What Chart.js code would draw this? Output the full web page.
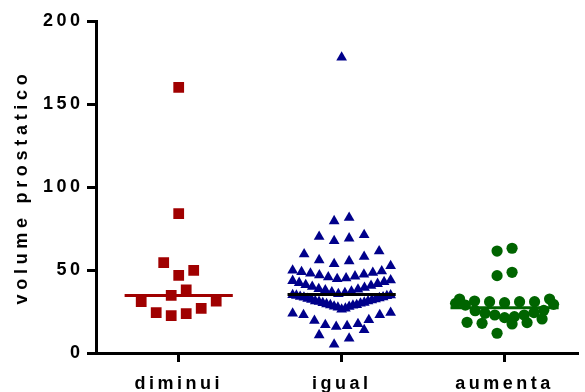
<!DOCTYPE html>
<html>
<head>
<meta charset="utf-8">
<script src="https://cdn.jsdelivr.net/npm/chart.js@4.4.0/dist/chart.umd.min.js"></script>
<style>
html,body{margin:0;padding:0;background:#fff;}
#wrap{width:585px;height:392px;position:relative;}
canvas{display:block;}
</style>
</head>
<body>
<div id="wrap"><canvas id="c" width="585" height="392"></canvas></div>
<script>
// ---------------- data ----------------
const categories = ['diminui', 'igual', 'aumenta'];
const yTicks = [0, 50, 100, 150, 200];
const yTitle = 'volume prostatico';

const diminui = [160, 84, 54.4, 49.8, 46.8, 38, 34.7, 31.3, 30.9, 26.9, 24.3, 23.7, 22.5];

const igual = [
  178,
  81.5, 79.5,
  71.1, 70.1, 69.1, 67.5,
  61.4, 59.5, 58.0, 56.0, 55.4, 53.6,
  52.4, 49.7, 49.3, 48.8, 48.4, 47.9, 47.3, 46.9, 46.2, 45.7, 45.1, 44.6,
  43.9, 43.5, 42.8, 42.3, 41.7, 41.0, 40.6, 39.9, 39.4, 38.6, 38.3, 37.8, 37.1, 36.7, 36.2, 35.6,
  35.0, 34.8, 34.6, 34.4, 33.9, 33.6, 33.5, 33.1, 32.7, 32.4, 32.2, 31.8, 31.3, 31.2,
  30.9, 30.4, 30.2, 29.9, 29.5, 29.0, 28.9, 28.6, 28.1, 27.9, 27.4, 26.9, 26.3,
  24.3, 23.9, 22.9, 22.9, 19.9, 19.5, 17.5, 16.9, 16.3, 15.9,
  13.9, 10.8, 8.8, 5.2
];

const aumenta = [63.1, 61.4, 48.6, 46.6, 32.5, 32.5, 31.3, 30.9, 30.9, 30.9, 30.3, 29.9, 29.3, 28.9,
  25.7, 25.5, 24.3, 23.9, 22.9, 22.9, 21.9, 21.3, 20.5, 18.5, 18.3, 17.9, 17.5, 11.9];

// ---------------- styling ----------------
const FONT = "'Liberation Sans', Arial, Helvetica, sans-serif";
const colors = ['#a00000', '#00008b', '#006400'];
const lineColors = ['#a00000', '#000000', '#006400'];
const styles = ['rect', 'triangle', 'circle'];
const radii = [7.6, 6.2, 5.6];
const ROW_SPAN = 8.9;      // value range grouped in one row of the dot plot
const SLOT_PX = 15;        // horizontal slot between symbols
const MAX_SPREAD_PX = 98;  // maximal spread of a row
const HALF_LINE = 0.332;   // half width of median line (x units)

function median(arr) {
  const s = [...arr].sort((a, b) => a - b);
  const n = s.length;
  return n % 2 ? s[(n - 1) / 2] : (s[n / 2 - 1] + s[n / 2]) / 2;
}

const groups = [diminui, igual, aumenta];
const datasets = [];
groups.forEach((vals, gi) => {
  datasets.push({
    label: categories[gi],
    swarm: true,
    cat: gi + 1,
    data: vals.map(v => ({x: gi + 1, y: v})),
    pointStyle: styles[gi],
    pointRadius: radii[gi],
    pointHoverRadius: radii[gi],
    pointBackgroundColor: colors[gi],
    pointBorderColor: colors[gi],
    pointBorderWidth: 0,
    showLine: false,
    order: 1
  });
});
groups.forEach((vals, gi) => {
  const m = median(vals);
  datasets.push({
    label: categories[gi] + ' median',
    data: [{x: gi + 1 - HALF_LINE, y: m}, {x: gi + 1 + HALF_LINE, y: m}],
    showLine: true,
    borderColor: lineColors[gi],
    borderWidth: 3,
    pointRadius: 0,
    fill: false,
    order: 0
  });
});

const swarmPlugin = {
  id: 'swarm',
  afterDatasetsUpdate(chart) {
    const xs = chart.scales.x;
    chart.data.datasets.forEach((ds, di) => {
      if (!ds.swarm) return;
      const meta = chart.getDatasetMeta(di);
      const cx = xs.getPixelForValue(ds.cat);
      const idx = ds.data.map((p, i) => i).sort((a, b) => ds.data[a].y - ds.data[b].y);
      let k = 0;
      while (k < idx.length) {
        const start = ds.data[idx[k]].y;
        const row = [];
        while (k < idx.length && ds.data[idx[k]].y < start + ROW_SPAN) row.push(idx[k++]);
        const n = row.length;
        const step = n > 1 ? Math.min(SLOT_PX, MAX_SPREAD_PX / (n - 1)) : 0;
        row.forEach((pi, i) => {
          let slot;
          if (n % 2) slot = i === 0 ? 0 : (i % 2 ? (i + 1) / 2 : -i / 2);
          else slot = i % 2 ? (i - 1) / 2 + 0.5 : -(i / 2 + 0.5);
          meta.data[pi].x = cx + slot * step;
        });
      }
    });
  }
};

const spacingPlugin = {
  id: 'spacing',
  beforeDraw(chart) {
    chart.ctx.letterSpacing = '3.5px';
    const ys = chart.scales.y;
    if (ys && !ys._patchedTitle) {
      const orig = ys.drawTitle.bind(ys);
      ys.drawTitle = function () {
        const c = this.ctx;
        const prev = c.letterSpacing;
        c.letterSpacing = '4.7px';
        orig();
        c.letterSpacing = prev;
      };
      ys._patchedTitle = true;
    }
  }
};

new Chart(document.getElementById('c'), {
  type: 'scatter',
  data: {datasets},
  plugins: [swarmPlugin, spacingPlugin],
  options: {
    responsive: false,
    animation: false,
    devicePixelRatio: 1,
    layout: {padding: {top: 21, right: 0, bottom: 0, left: 0}},
    plugins: {legend: {display: false}, tooltip: {enabled: false}},
    scales: {
      x: {
        type: 'linear',
        min: 0.4924,
        max: 3.447,
        afterBuildTicks: s => { s.ticks = categories.map((c, i) => ({value: i + 1})); },
        afterFit: s => { s.height = 39; },
        ticks: {
          callback: (v, i) => categories[i],
          font: {family: FONT, size: 18, weight: 'bold'},
          color: '#000',
          padding: 11,
          maxRotation: 0,
          autoSkip: false
        },
        grid: {drawOnChartArea: false, drawTicks: true, tickLength: 9, lineWidth: 3, color: '#000'},
        border: {display: true, color: '#000', width: 3}
      },
      y: {
        min: 0,
        max: 200,
        afterBuildTicks: s => { s.ticks = yTicks.map(v => ({value: v})); },
        afterFit: s => { s.width = 96; },
        ticks: {
          font: {family: FONT, size: 18, weight: 'bold'},
          color: '#000',
          padding: 3.5
        },
        grid: {drawOnChartArea: false, drawTicks: true, tickLength: 9, lineWidth: 3, color: '#000'},
        border: {display: true, color: '#000', width: 3},
        title: {
          display: true,
          text: yTitle,
          font: {family: FONT, size: 18, weight: 'bold'},
          color: '#000',
          padding: {top: 11, bottom: 0}
        }
      }
    }
  }
});
</script>
</body>
</html>
